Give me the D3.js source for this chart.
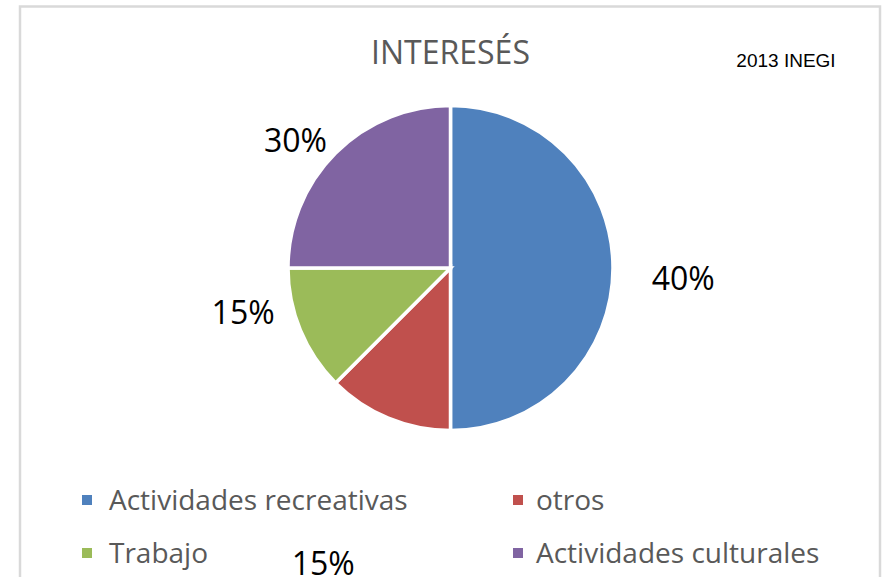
<!DOCTYPE html>
<html>
<head>
<meta charset="utf-8">
<script src="https://cdn.jsdelivr.net/npm/d3@7/dist/d3.min.js"></script>
<style>
  html, body { margin: 0; padding: 0; background: #fff; overflow: hidden; }
  svg { display: block; }
</style>
</head>
<body>
<svg id="chart" width="884" height="577"></svg>
<script>
// ---- data ----
const categories = ["Actividades recreativas", "otros", "Trabajo", "Actividades culturales"];
const sliceShares = [50, 12.5, 12.5, 25];          // share of the circle
const labelTexts = ["40%", "15%", "15%", "30%"];    // data-label texts as printed
const colors = ["#4F81BD", "#C0504D", "#9BBB59", "#8064A2"];
const titleText = "INTERESÉS";
const sourceText = "2013 INEGI";

// ---- layout ----
const W = 884, H = 577;
const cx = 450.5, cy = 268, R = 162.5;
// label placement (polar, degrees clockwise from top, distance from centre)
const labelPolar = [[92.5, 233], [203.3, 322], [258, 212], [309.5, 201]];

const svg = d3.select("#chart");

// frame
svg.append("rect")
  .attr("x", 20).attr("y", 6.5)
  .attr("width", 860).attr("height", 620)
  .attr("fill", "#fff")
  .attr("stroke", "#d9d9d9")
  .attr("stroke-width", 2.5);

// title
svg.append("text")
  .attr("x", cx).attr("y", 64)
  .attr("text-anchor", "middle")
  .attr("font-family", "'Open Sans', sans-serif")
  .attr("font-size", 32)
  .attr("fill", "#595959")
  .text(titleText);

svg.append("text")
  .attr("x", 786).attr("y", 67)
  .attr("text-anchor", "middle")
  .attr("font-family", "'Liberation Sans', Arial, sans-serif")
  .attr("font-size", 19)
  .attr("fill", "#000")
  .text(sourceText);

// pie
const pie = d3.pie().sort(null).value(d => d.v);
const arcs = pie(categories.map((c, i) => ({ c, v: sliceShares[i], i })));
const arc = d3.arc().innerRadius(0).outerRadius(R);

const g = svg.append("g").attr("transform", `translate(${cx},${cy})`);
g.selectAll("path")
  .data(arcs)
  .join("path")
  .attr("d", arc)
  .attr("fill", d => colors[d.data.i])
  .attr("stroke", "#fff")
  .attr("stroke-width", 3.5)
  .attr("stroke-linejoin", "miter");

// data labels
g.selectAll("text.lbl")
  .data(arcs)
  .join("text")
  .attr("class", "lbl")
  .attr("x", d => { const [a, r] = labelPolar[d.data.i]; return r * Math.sin(a * Math.PI / 180); })
  .attr("y", d => { const [a, r] = labelPolar[d.data.i]; return -r * Math.cos(a * Math.PI / 180); })
  .attr("dy", "0.36em")
  .attr("text-anchor", "middle")
  .attr("font-family", "'Open Sans', sans-serif")
  .attr("font-size", 32)
  .attr("fill", "#000")
  .text(d => labelTexts[d.data.i]);

// legend
const legX = [82, 513], legY = [500, 553];
const leg = svg.append("g");
categories.forEach((c, i) => {
  const col = i % 2, row = Math.floor(i / 2);
  const x = legX[col], y = legY[row];
  leg.append("rect")
    .attr("x", x).attr("y", y - 5)
    .attr("width", 10).attr("height", 10)
    .attr("fill", colors[i]);
  leg.append("text")
    .attr("x", x + (col === 0 ? 27 : 23)).attr("y", y)
    .attr("dy", "0.36em")
    .attr("font-family", "'Open Sans', sans-serif")
    .attr("font-size", 28)
    .attr("fill", "#595959")
    .text(c);
});
</script>
</body>
</html>
